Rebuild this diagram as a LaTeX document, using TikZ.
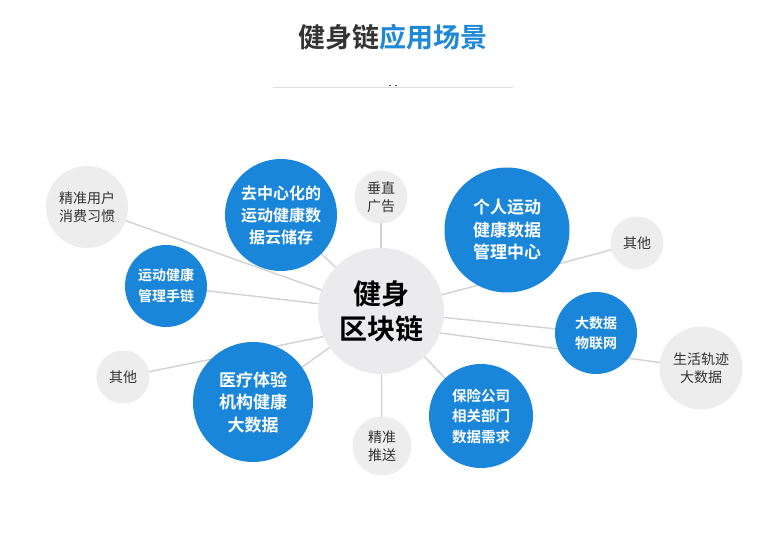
\documentclass[tikz,border=0pt]{standalone}
\usepackage{fontspec}
\usepackage{tikz}
\usetikzlibrary{backgrounds}
\setmainfont{Noto Sans CJK SC}[BoldFont={Noto Sans CJK SC Bold}]
\definecolor{mBlue}{HTML}{1A86DA}
\definecolor{mTitleBlue}{HTML}{1E88D6}
\definecolor{mDark}{HTML}{333333}
\definecolor{hubGray}{HTML}{EBEBED}
\definecolor{bubbleGray}{HTML}{EDEDED}
\definecolor{linkGray}{HTML}{D2D2D2}

\begin{document}
\begin{tikzpicture}[x=1pt, y=-1pt,
  hub/.style={circle, fill=hubGray, inner sep=0pt, minimum size=126pt, align=center,
              text=black, font=\fontsize{28}{35}\selectfont\bfseries},
  bluebub/.style={circle, fill=mBlue, inner sep=0pt, align=center, text=white},
  graybub/.style={circle, fill=bubbleGray, inner sep=0pt, align=center, text=mDark,
                  font=\fontsize{14}{18}\selectfont},
  link/.style={linkGray, line width=1.4pt}]
  \useasboundingbox (0,0) rectangle (777,534);
  % title and rule
  \node[font=\fontsize{27}{30}\selectfont\bfseries] (title) at (393,37)
    {\textcolor{mDark}{健身链}\textcolor{mTitleBlue}{应用场景}};
  \draw[gray!25, line width=0.8pt] (273,87) -- (513,87);
  \fill[mDark] (390,85.5) circle (0.9pt) (396,85.5) circle (0.9pt);
  % centre
  \node[hub] (hub) at (381,311) {健身\\区块链};
  \coordinate (hublow) at (381,325);
  % blue bubbles
  \node[bluebub, minimum size=112pt, font=\fontsize{16}{22}\selectfont\bfseries] (cloud) at (281,215) {去中心化的\\运动健康数\\据云储存};
  \node[bluebub, minimum size=125pt, font=\fontsize{17}{22.5}\selectfont\bfseries] (center) at (507,230) {个人运动\\健康数据\\管理中心};
  \node[bluebub, minimum size=82pt, font=\fontsize{14}{21}\selectfont\bfseries] (chain) at (166,286) {运动健康\\管理手链};
  \node[bluebub, minimum size=82pt, font=\fontsize{14}{20}\selectfont\bfseries] (iot) at (596,333) {大数据\\物联网};
  \node[bluebub, minimum size=120pt, font=\fontsize{17}{22.5}\selectfont\bfseries] (medical) at (253,402) {医疗体验\\机构健康\\大数据};
  \node[bluebub, minimum size=104pt, font=\fontsize{14.5}{20.5}\selectfont\bfseries] (insure) at (481,416) {保险公司\\相关部门\\数据需求};
  % gray bubbles
  \node[graybub, minimum size=82pt] (habit) at (87,207) {精准用户\\消费习惯};
  \node[graybub, minimum size=53pt] (advert) at (381,197) {垂直\\广告};
  \node[graybub, minimum size=53pt] (otherR) at (637,243) {其他};
  \node[graybub, minimum size=83pt] (trace) at (701,368) {生活轨迹\\大数据};
  \node[graybub, minimum size=59pt] (push) at (382,446) {精准\\推送};
  \node[graybub, minimum size=53pt] (otherL) at (123,377) {其他};
  % connectors behind the bubbles
  \begin{scope}[on background layer]
    \fill[white] (0,0) rectangle (777,534);
    \foreach \n in {habit, cloud, advert, otherR, chain, iot, insure, push, medical}
      \draw[link] (hub.center) -- (\n.center);
    \draw[link] (hublow) -- (trace.center);
    \draw[link] (hublow) -- (otherL.center);
  \end{scope}
\end{tikzpicture}
\end{document}
